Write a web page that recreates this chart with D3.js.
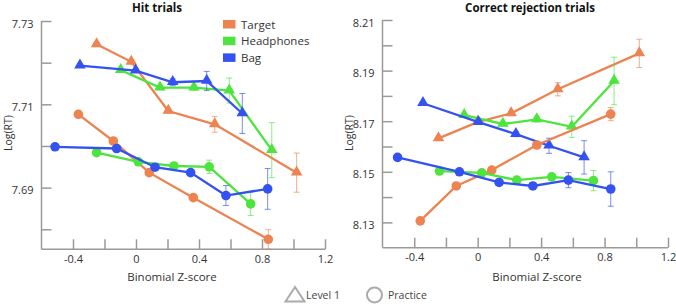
<!DOCTYPE html>
<html>
<head>
<meta charset="utf-8">
<script src="https://cdn.jsdelivr.net/npm/d3@7"></script>
<style>
  body { margin: 0; background: #fff; }
  svg text { font-family: "Open Sans", "Noto Sans", sans-serif; }
  .axis path, .axis line { stroke: #9a9a9a; stroke-width: 1.5; }
  .axis text { fill: #333; font-size: 11px; }
</style>
</head>
<body>
<div id="chart"></div>
<script>
// ---- data ----
const seriesNames = ["Target", "Headphones", "Bag"];
const seriesColors = ["#ec8350", "#4de43d", "#3352f0"];

const xTicks = [-0.4, -0.2, 0, 0.2, 0.4, 0.6, 0.8, 1.0, 1.2];
const xLabels = [-0.4, 0, 0.4, 0.8, 1.2];

const hitYTicks = [7.68, 7.69, 7.70, 7.71, 7.72, 7.73];
const hitYLabels = [7.69, 7.71, 7.73];
const crYTicks = [8.13, 8.14, 8.15, 8.16, 8.17, 8.18, 8.19, 8.20, 8.21];
const crYLabels = [8.13, 8.15, 8.17, 8.19, 8.21];

// Hit trials, Level 1 (triangles)
const hitTargetL1_x = [-0.25, -0.03, 0.205, 0.50, 1.02];
const hitTargetL1_y = [7.7244, 7.7202, 7.7084, 7.7052, 7.6936];
const hitTargetL1_e = [0.0004, 0.0004, 0.0005, 0.0019, 0.0047];
const hitHeadL1_x = [-0.097, 0.152, 0.368, 0.592, 0.862];
const hitHeadL1_y = [7.7182, 7.7140, 7.7140, 7.7133, 7.6990];
const hitHeadL1_e = [0.0004, 0.0005, 0.0006, 0.0030, 0.0066];
const hitBagL1_x = [-0.356, -0.002, 0.233, 0.449, 0.675];
const hitBagL1_y = [7.7193, 7.7181, 7.7153, 7.7156, 7.7078];
const hitBagL1_e = [0.0004, 0.0004, 0.0008, 0.0023, 0.0048];
// Hit trials, Practice (circles)
const hitTargetPr_x = [-0.366, -0.144, 0.084, 0.364, 0.84];
const hitTargetPr_y = [7.7076, 7.7012, 7.6936, 7.6876, 7.6776];
const hitTargetPr_e = [0.0005, 0.0004, 0.0004, 0.0007, 0.0023];
const hitHeadPr_x = [-0.25, 0.015, 0.241, 0.465, 0.728];
const hitHeadPr_y = [7.6984, 7.6962, 7.6952, 7.6950, 7.6861];
const hitHeadPr_e = [0.0004, 0.0004, 0.0004, 0.0016, 0.0028];
const hitBagPr_x = [-0.514, -0.123, 0.121, 0.347, 0.571, 0.836];
const hitBagPr_y = [7.6998, 7.6994, 7.6949, 7.6936, 7.6881, 7.6897];
const hitBagPr_e = [0.0003, 0.0003, 0.0004, 0.0007, 0.0024, 0.0049];

// Correct rejection trials, Level 1
const crTargetL1_x = [-0.247, -0.001, 0.211, 0.505, 1.019];
const crTargetL1_y = [8.1632, 8.1696, 8.1731, 8.1826, 8.1968];
const crTargetL1_e = [0.0008, 0.0008, 0.0008, 0.0026, 0.0056];
const crHeadL1_x = [-0.085, 0.159, 0.373, 0.593, 0.86];
const crHeadL1_y = [8.1724, 8.1689, 8.1707, 8.1678, 8.1859];
const crHeadL1_e = [0.0006, 0.0008, 0.0010, 0.0042, 0.0094];
const crBagL1_x = [-0.345, 0.005, 0.241, 0.45, 0.671];
const crBagL1_y = [8.1771, 8.1696, 8.1649, 8.1603, 8.1557];
const crBagL1_e = [0.0005, 0.0006, 0.0010, 0.0030, 0.0066];
// Correct rejection trials, Practice
const crTargetPr_x = [-0.362, -0.135, 0.089, 0.373, 0.839];
const crTargetPr_y = [8.1306, 8.1444, 8.1507, 8.1606, 8.1728];
const crTargetPr_e = [0.0008, 0.0006, 0.0006, 0.0008, 0.0026];
const crHeadPr_x = [-0.241, 0.026, 0.247, 0.467, 0.73];
const crHeadPr_y = [8.1503, 8.1496, 8.1467, 8.1480, 8.1465];
const crHeadPr_e = [0.0006, 0.0006, 0.0006, 0.0010, 0.0040];
const crBagPr_x = [-0.505, -0.115, 0.135, 0.348, 0.572, 0.839];
const crBagPr_y = [8.1557, 8.1500, 8.1458, 8.1444, 8.1467, 8.1432];
const crBagPr_e = [0.0004, 0.0004, 0.0005, 0.0006, 0.0030, 0.0068];

function zip(xs, ys, es) {
    return xs.map((x, i) => ({x: x, y: ys[i], e: es[i]}));
}

const panels = [
    {
        title: "Hit trials",
        left: 41.5, right: 325, top: 21, bottom: 249.3,
        titleX: 157, labelX: 172,
        yDomain: [7.6752, 7.73], yTicks: hitYTicks, yLabels: hitYLabels,
        series: [
            {c: 0, shape: "tri", pts: zip(hitTargetL1_x, hitTargetL1_y, hitTargetL1_e)},
            {c: 1, shape: "tri", pts: zip(hitHeadL1_x, hitHeadL1_y, hitHeadL1_e)},
            {c: 2, shape: "tri", pts: zip(hitBagL1_x, hitBagL1_y, hitBagL1_e)},
            {c: 0, shape: "circ", pts: zip(hitTargetPr_x, hitTargetPr_y, hitTargetPr_e)},
            {c: 1, shape: "circ", pts: zip(hitHeadPr_x, hitHeadPr_y, hitHeadPr_e)},
            {c: 2, shape: "circ", pts: zip(hitBagPr_x, hitBagPr_y, hitBagPr_e)}
        ]
    },
    {
        title: "Correct rejection trials",
        left: 382.5, right: 668, top: 20, bottom: 247.7,
        titleX: 530, labelX: 537,
        yDomain: [8.12, 8.21], yTicks: crYTicks, yLabels: crYLabels,
        series: [
            {c: 0, shape: "tri", pts: zip(crTargetL1_x, crTargetL1_y, crTargetL1_e)},
            {c: 1, shape: "tri", pts: zip(crHeadL1_x, crHeadL1_y, crHeadL1_e)},
            {c: 2, shape: "tri", pts: zip(crBagL1_x, crBagL1_y, crBagL1_e)},
            {c: 0, shape: "circ", pts: zip(crTargetPr_x, crTargetPr_y, crTargetPr_e)},
            {c: 1, shape: "circ", pts: zip(crHeadPr_x, crHeadPr_y, crHeadPr_e)},
            {c: 2, shape: "circ", pts: zip(crBagPr_x, crBagPr_y, crBagPr_e)}
        ]
    }
];

const svg = d3.select("#chart").append("svg")
    .attr("width", 676)
    .attr("height", 304);

const fmt = d => d === 0 ? "0" : d3.format(".1f")(d).replace("\u2212", "-");
const triangle = d3.symbol().type(d3.symbolTriangle).size(58);

panels.forEach(p => {
    const x = d3.scaleLinear().domain([-0.6, 1.2]).range([p.left, p.right]);
    const y = d3.scaleLinear().domain(p.yDomain).range([p.bottom, p.top]);

    // axes: ticks point inward
    const xAxis = d3.axisBottom(x)
        .tickValues(xTicks)
        .tickSizeInner(-10)
        .tickSizeOuter(0)
        .tickPadding(6)
        .tickFormat(d => xLabels.some(v => Math.abs(v - d) < 1e-9) ? fmt(d) : "");
    const gx = svg.append("g").attr("class", "axis")
        .attr("transform", `translate(0,${p.bottom})`)
        .call(xAxis);
    gx.select(".domain").attr("d", `M${p.left},0H${p.right}`);

    const yAxis = d3.axisLeft(y)
        .tickValues(p.yTicks)
        .tickSizeInner(-10)
        .tickSizeOuter(0)
        .tickPadding(8)
        .tickFormat(d => p.yLabels.some(v => Math.abs(v - d) < 1e-9) ? d3.format(".2f")(d) : "");
    const gy = svg.append("g").attr("class", "axis")
        .attr("transform", `translate(${p.left},0)`)
        .call(yAxis);
    gy.select(".domain").attr("d", `M0,${p.top}V${p.bottom}`);
    gy.selectAll(".tick text").attr("dy", "0.55em");

    // titles and axis labels
    svg.append("text")
        .attr("x", p.titleX)
        .attr("y", 12)
        .attr("text-anchor", "middle")
        .style("font-size", "11.5px")
        .style("font-weight", "bold")
        .style("fill", "#111")
        .text(p.title);

    svg.append("text")
        .attr("x", p.labelX)
        .attr("y", 281)
        .attr("text-anchor", "middle")
        .style("font-size", "11.5px")
        .style("fill", "#333")
        .text("Binomial Z-score");

    svg.append("text")
        .attr("transform", `translate(${p.left - 30},133) rotate(-90)`)
        .attr("text-anchor", "middle")
        .style("font-size", "10.5px")
        .style("fill", "#333")
        .text("Log(RT)");

    const line = d3.line().x(d => x(d.x)).y(d => y(d.y));

    // lines and error bars for each series, in drawing order
    p.series.forEach(s => {
        const col = seriesColors[s.c];
        const g = svg.append("g");

        const eb = g.selectAll(".err").data(s.pts).enter().append("g")
            .attr("stroke", col)
            .attr("stroke-opacity", 0.65)
            .attr("stroke-width", 1);
        eb.append("line")
            .attr("x1", d => x(d.x)).attr("x2", d => x(d.x))
            .attr("y1", d => y(d.y - d.e)).attr("y2", d => y(d.y + d.e));
        eb.append("line")
            .attr("x1", d => x(d.x) - 3).attr("x2", d => x(d.x) + 3)
            .attr("y1", d => y(d.y - d.e)).attr("y2", d => y(d.y - d.e));
        eb.append("line")
            .attr("x1", d => x(d.x) - 3).attr("x2", d => x(d.x) + 3)
            .attr("y1", d => y(d.y + d.e)).attr("y2", d => y(d.y + d.e));

        g.append("path")
            .datum(s.pts)
            .attr("d", line)
            .attr("fill", "none")
            .attr("stroke", col)
            .attr("stroke-width", 2.3);

        if (s.shape === "tri") {
            g.selectAll(".mk").data(s.pts).enter().append("path")
                .attr("d", triangle)
                .attr("transform", d => `translate(${x(d.x)},${y(d.y) - 0.5})`)
                .attr("fill", col);
        } else {
            g.selectAll(".mk").data(s.pts).enter().append("circle")
                .attr("cx", d => x(d.x))
                .attr("cy", d => y(d.y))
                .attr("r", 4.8)
                .attr("fill", col);
        }
    });
});

// colour legend
const legend = svg.append("g").attr("transform", "translate(223,20)");
seriesNames.forEach((name, i) => {
    legend.append("rect")
        .attr("x", 0).attr("y", i * 16.7)
        .attr("width", 12.5).attr("height", 8.5)
        .attr("fill", seriesColors[i]);
    legend.append("text")
        .attr("x", 18).attr("y", i * 16.7 + 8.5)
        .style("font-size", "11.5px")
        .style("fill", "#333")
        .text(name);
});

// shape legend
svg.append("path")
    .attr("d", "M285.5,301.5L295,287L304.5,301.5Z")
    .attr("fill", "none")
    .attr("stroke", "#aaa")
    .attr("stroke-width", 2);
svg.append("text")
    .attr("x", 306).attr("y", 299)
    .style("font-size", "10.5px").style("fill", "#444")
    .text("Level 1");
svg.append("circle")
    .attr("cx", 374.5).attr("cy", 295).attr("r", 7.5)
    .attr("fill", "none")
    .attr("stroke", "#aaa")
    .attr("stroke-width", 2);
svg.append("text")
    .attr("x", 388).attr("y", 299)
    .style("font-size", "10.5px").style("fill", "#444")
    .text("Practice");
</script>
</body>
</html>
